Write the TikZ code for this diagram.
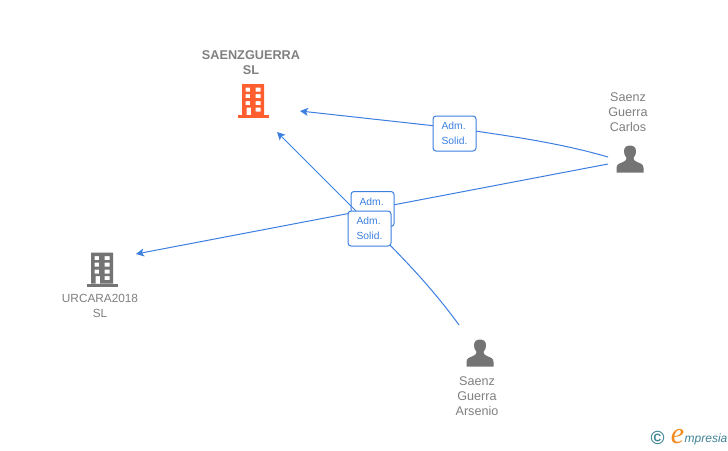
\documentclass[tikz,border=0pt]{standalone}
\usepackage{fontspec}
\setmainfont{Liberation Sans}
\newfontfamily\logofont[ItalicFont={Liberation Serif Italic}]{Liberation Serif}
\usetikzlibrary{arrows.meta}
\definecolor{linkblue}{HTML}{3C7FE0}
\definecolor{labelgray}{HTML}{808080}
\definecolor{icongray}{HTML}{747474}
\definecolor{iconorange}{HTML}{FF5F2E}
\definecolor{logoteal}{HTML}{3F8296}
\definecolor{logoorange}{HTML}{F28A1E}
\tikzset{
  x=1pt,y=-1pt,
  link/.style={draw=linkblue,line width=1pt,-{Stealth[length=8pt,width=8pt,inset=2pt]}},
  tagbox/.style={draw=linkblue,line width=1pt,rounded corners=3pt,fill=white,
    minimum width=43pt,minimum height=35pt,inner sep=0pt,align=left,
    text=linkblue,font=\fontsize{10.3}{15}\selectfont},
  caption/.style={text=labelgray,align=center,inner sep=0pt,font=\fontsize{12.6}{15}\selectfont},
  captionbold/.style={text=labelgray,align=center,inner sep=0pt,font=\fontsize{12.7}{15}\selectfont\bfseries},
}
\newcommand{\drawbuilding}[3]{%
  \begin{scope}[shift={(#1,#2)}]
    \fill[#3,even odd rule]
      (-11,-16) rectangle (11,15)
      (-7.3,-12.3) rectangle (-3,-8.3)
      (2.7,-12.3) rectangle (7.7,-8.3)
      (-7.3,-6) rectangle (-3,-2)
      (2.7,-6) rectangle (7.7,-2)
      (-7.3,1) rectangle (-3,5)
      (2.7,1) rectangle (7.7,5)
      (-6.3,7.7) rectangle (-2,15)
      (2.7,7.7) rectangle (7.7,11.7);
    \fill[#3] (-15.5,15) rectangle (16,18);
  \end{scope}}
\newcommand{\drawperson}[2]{%
  \begin{scope}[shift={(#1,#2)}]
    \fill[icongray] (-13.5,13.5) -- (-13.5,9) .. controls (-13.5,5) and (-10,4) .. (-7,3)
      .. controls (-4.5,2) and (-3.5,1) .. (-3.5,-1) .. controls (-5.5,-3) and (-6,-6) .. (-6,-8)
      .. controls (-6,-11.5) and (-3.5,-13.5) .. (0,-13.5)
      .. controls (3.5,-13.5) and (6,-11.5) .. (6,-8)
      .. controls (6,-6) and (5.5,-3) .. (3.5,-1) .. controls (3.5,1) and (4.5,2) .. (7,3)
      .. controls (10,4) and (13.5,5) .. (13.5,9) -- (13.5,13.5) -- cycle;
  \end{scope}}
\begin{document}
\begin{tikzpicture}
\useasboundingbox (0,0) rectangle (728,450);
\fill[white] (0,0) rectangle (728,450);

% icons
\drawbuilding{253}{100}{iconorange}
\drawbuilding{102}{268.5}{icongray}
\drawperson{630}{159}
\drawperson{480}{353}

% captions
\node[captionbold] (saenzguerra) at (251,62.5) {SAENZGUERRA\\SL};
\node[caption,font=\fontsize{11.8}{15}\selectfont] (urcara) at (100,305.5) {URCARA2018\\SL};
\node[caption] (carlos) at (628,112) {Saenz\\Guerra\\Carlos};
\node[caption] (arsenio) at (477,396) {Saenz\\Guerra\\Arsenio};

% connector ends
\coordinate (toSaenzA) at (300,111);
\coordinate (toSaenzB) at (277,132);
\coordinate (toUrcara) at (136,254);
\coordinate (fromCarlosA) at (608,157);
\coordinate (fromCarlosB) at (608,164);
\coordinate (fromArsenio) at (459,325);

% connector 1
\draw[link] (fromCarlosA) .. controls (560,143) and (510,136) .. (454,128) -- (toSaenzA);
\node[tagbox] (tagA) at (454.5,133.5) {Adm.\\Solid.};

% connector 2
\draw[link] (fromCarlosB) -- (toUrcara);
\node[tagbox] (tagB) at (372.5,209) {Adm.\\\phantom{Solid.}};

% connector 3
\draw[link] (fromArsenio) .. controls (430,285) and (400,255) .. (369,224) -- (toSaenzB);
\node[tagbox] (tagC) at (369.5,228.5) {Adm.\\Solid.};

% logo
\node[inner sep=0pt,text=logoteal,font=\bfseries\fontsize{19}{19}\selectfont] (copyright) at (657.5,437.5) {©};
\node[inner sep=0pt,text=logoorange,font=\logofont\itshape\fontsize{30}{30}\selectfont] (logoE) at (677.5,437) {e};
\node[inner sep=0pt,anchor=west,text=logoteal,font=\itshape\fontsize{12}{14}\selectfont] (logotext) at (684.5,439) {mpresia};
\end{tikzpicture}
\end{document}
